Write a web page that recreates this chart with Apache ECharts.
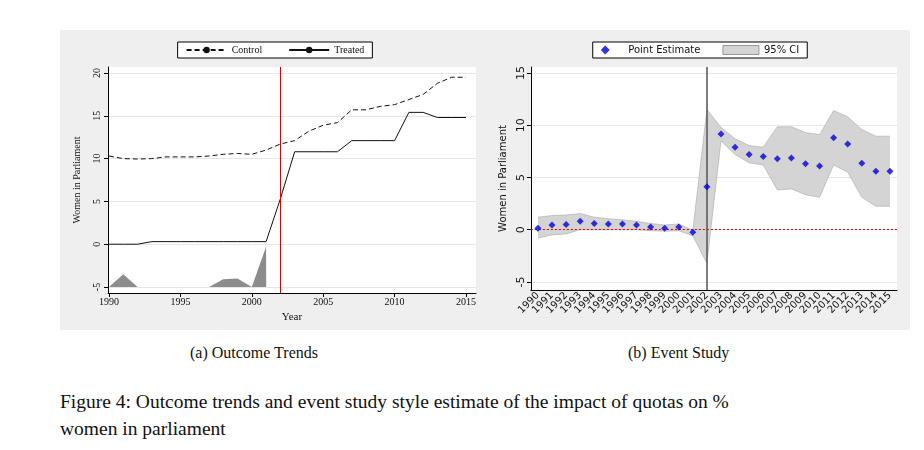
<!DOCTYPE html>
<html><head><meta charset="utf-8">
<script src="https://cdn.jsdelivr.net/npm/echarts@6/dist/echarts.min.js"></script>
<style>
body{margin:0;background:#fff;width:924px;height:450px;position:relative;overflow:hidden}
.panel{position:absolute;background:#efefef}
.cap{position:absolute;font-family:"Liberation Serif","DejaVu Serif",serif;color:#111}
</style></head><body>
<div id="left" class="panel" style="left:60px;top:30px;width:430px;height:300px"></div>
<div id="right" class="panel" style="left:490px;top:30px;width:420px;height:300px"></div>
<div class="cap" style="left:190px;top:344px;font-size:16px">(a) Outcome Trends</div>
<div class="cap" style="left:628px;top:344px;font-size:16px">(b) Event Study</div>
<div class="cap" style="left:60px;top:388px;font-size:19.5px;line-height:27px;width:860px">Figure 4: Outcome trends and event study style estimate of the impact of quotas on %<br>women in parliament</div>
<script>
var years = [1990,1991,1992,1993,1994,1995,1996,1997,1998,1999,2000,2001,2002,2003,2004,2005,2006,2007,2008,2009,2010,2011,2012,2013,2014,2015];
var control = [10.3,10.0,9.95,10.0,10.2,10.2,10.2,10.3,10.5,10.6,10.5,11.0,11.7,12.1,13.2,13.9,14.2,15.7,15.7,16.1,16.3,16.9,17.5,18.8,19.5,19.5];
var treated = [0,0,0,0.3,0.3,0.3,0.3,0.3,0.3,0.3,0.3,0.3,5.3,10.8,10.8,10.8,10.8,12.1,12.1,12.1,12.1,15.4,15.4,14.8,14.8,14.8];
var shadeX = [1990,1991,1992,1997,1998,1999,2000,2001,2001.01];
var shadeY = [-5,-3.5,-5,-5,-4.1,-4.0,-5,-0.3,-5];
var leftTicksX = [1990,1995,2000,2005,2010,2015];
var leftTicksY = [-5,0,5,10,15,20];

var estimate = [0.15,0.45,0.5,0.8,0.6,0.55,0.55,0.45,0.25,0.15,0.25,-0.25,4.1,9.15,7.9,7.2,7.0,6.8,6.85,6.3,6.1,8.8,8.2,6.35,5.6,5.6];
var ciLow = [-0.8,-0.5,-0.4,0.0,0.0,0.0,0.0,0.0,-0.1,-0.15,-0.1,-0.6,-3.2,8.5,7.2,6.4,6.2,3.8,3.9,3.35,3.1,6.2,5.5,3.1,2.25,2.25];
var ciHigh = [1.2,1.35,1.4,1.55,1.2,1.05,0.95,0.8,0.6,0.45,0.55,-0.05,11.5,9.8,8.7,8.05,7.9,9.85,9.85,9.3,9.1,11.4,10.8,9.6,8.95,8.95];
var rightTicksY = [-5,0,5,10,15];

function pairs(xs, ys){ return xs.map(function(x,i){ return [x, ys[i]]; }); }

var serif = '"Liberation Serif","DejaVu Serif",serif';
var left = echarts.init(document.getElementById('left'));
left.setOption({
    animation:false,
    textStyle:{fontFamily:serif},
    legend:{top:12,left:'center',itemWidth:40,itemHeight:8,itemGap:26,borderColor:'#000',borderWidth:1,
        backgroundColor:'#fff',padding:[3,8,3,8],borderRadius:0,
        textStyle:{fontFamily:serif,fontSize:10,color:'#111'},
        data:['Control','Treated']},
    grid:{left:48,right:14,top:37,bottom:37,show:true,backgroundColor:'#fff',borderWidth:0},
    xAxis:{type:'value',min:1989.93,max:2015.7,name:'Year',nameLocation:'middle',nameGap:14,
        nameTextStyle:{fontFamily:serif,fontSize:11,color:'#111'},
        axisLine:{onZero:false,lineStyle:{color:'#000'}},splitLine:{show:false},
        axisTick:{customValues:leftTicksX,length:4,lineStyle:{color:'#000'}},
        axisLabel:{customValues:leftTicksX,fontSize:10,color:'#111',margin:4,
            formatter:function(v){return String(Math.round(v));}}},
    yAxis:{type:'value',min:-5.7,max:20.7,name:'Women in Parliament',nameLocation:'middle',nameGap:26,
        nameTextStyle:{fontFamily:serif,fontSize:10,color:'#111'},
        axisLine:{show:true,onZero:false,lineStyle:{color:'#000'}},
        splitLine:{lineStyle:{color:'#e6e6e6'}},
        axisTick:{show:true,customValues:leftTicksY,length:4,lineStyle:{color:'#000'}},
        axisLabel:{customValues:leftTicksY,fontSize:10,color:'#111',rotate:90,margin:6}},
    series:[
        {name:'Shade',type:'line',data:pairs(shadeX,shadeY),symbol:'none',lineStyle:{width:0},
            areaStyle:{color:'#8c8c8c',opacity:1,origin:-5},z:1},
        {name:'Control',type:'line',data:pairs(years,control),symbol:'none',
            lineStyle:{color:'#111',width:1,type:[5,3]},itemStyle:{color:'#111'}},
        {name:'Treated',type:'line',data:pairs(years,treated),symbol:'none',
            lineStyle:{color:'#111',width:1},itemStyle:{color:'#111'},
            markLine:{symbol:['none','none'],silent:true,label:{show:false},
                lineStyle:{color:'#d00',width:1,type:'solid'},data:[{xAxis:2002}]}}
    ]
});

var sans = '"DejaVu Sans",sans-serif';
var right = echarts.init(document.getElementById('right'));
right.setOption({
    animation:false,
    textStyle:{fontFamily:sans},
    legend:{top:12,left:'center',itemGap:22,itemWidth:36,itemHeight:9,borderColor:'#000',borderWidth:1,backgroundColor:'#fff',
        padding:[3,8,3,8],borderRadius:0,textStyle:{fontFamily:sans,fontSize:10,color:'#111'},
        data:[{name:'Point Estimate',icon:'path://M4.5,0L9,4.5L4.5,9L0,4.5Z',itemStyle:{color:'#0000dd'}},
              {name:'95% CI',icon:'rect',itemStyle:{color:'#d4d4d4',borderColor:'#999',borderWidth:1}}]},
    grid:{left:35,right:13,top:37,bottom:40,show:true,backgroundColor:'#fff',borderWidth:0},
    xAxis:{type:'category',data:years.map(String),boundaryGap:true,
        axisLine:{onZero:false,lineStyle:{color:'#000'}},
        axisTick:{alignWithLabel:true,length:4,lineStyle:{color:'#000'}},
        axisLabel:{interval:0,rotate:45,fontSize:10,color:'#111',margin:4}},
    yAxis:{type:'value',min:-5.77,max:15.57,name:'Women in Parliament',nameLocation:'middle',nameGap:22,
        nameTextStyle:{fontFamily:sans,fontSize:10,color:'#111'},
        axisLine:{show:true,onZero:false,lineStyle:{color:'#000'}},
        splitLine:{lineStyle:{color:'#e6e6e6'}},
        axisTick:{show:true,customValues:rightTicksY,length:4,lineStyle:{color:'#000'}},
        axisLabel:{customValues:rightTicksY,fontSize:11,color:'#111',rotate:90,margin:4}},
    series:[
        {name:'low',type:'line',stack:'ci',stackStrategy:'all',data:ciLow,symbol:'none',
            lineStyle:{width:0.6,color:'#aaa'},silent:true},
        {name:'95% CI',type:'line',stack:'ci',stackStrategy:'all',data:ciHigh.map(function(h,i){return h-ciLow[i];}),symbol:'none',
            lineStyle:{width:0.6,color:'#aaa'},areaStyle:{color:'#d4d4d4',opacity:1},itemStyle:{color:'#d4d4d4'},
            markLine:{symbol:['none','none'],silent:true,label:{show:false},
                data:[{yAxis:0,lineStyle:{color:'#d00',width:1,type:[2,2]}},
                      {xAxis:'2002',lineStyle:{color:'#555',width:1.5,type:'solid'}}]}},
        {name:'Point Estimate',type:'scatter',data:estimate,symbol:'diamond',symbolSize:7,
            itemStyle:{color:'#0000dd'},z:5}
    ]
});
</script>
</body></html>
